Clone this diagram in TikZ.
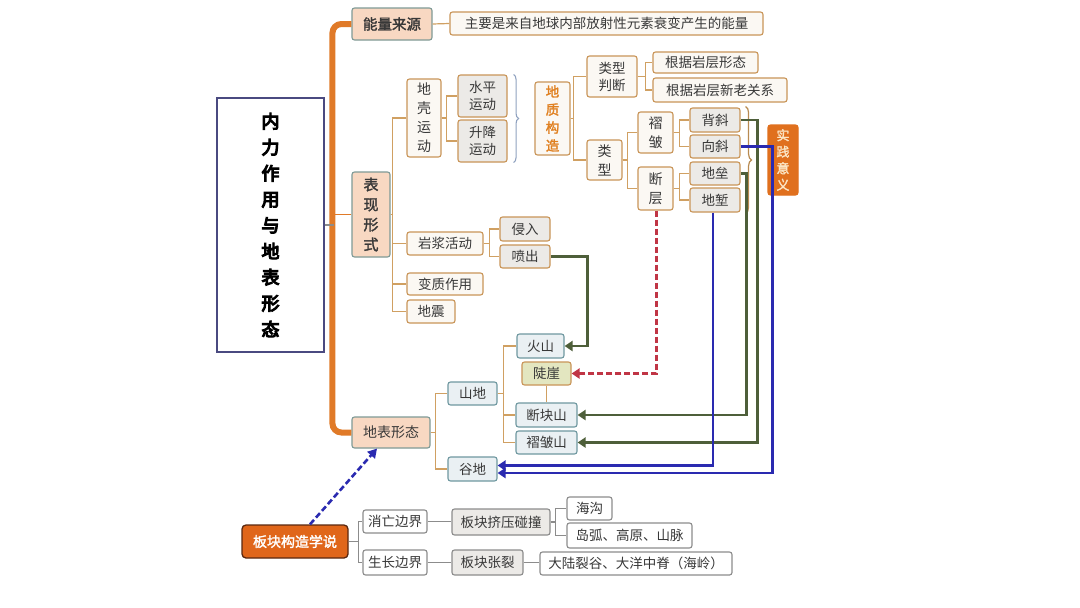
\documentclass[tikz,border=0pt]{standalone}
\usepackage{fontspec}
\newfontfamily\cjk{Noto Sans CJK SC}
\newfontfamily\cjkb{Noto Sans CJK SC}[FakeBold=2]
\newfontfamily\cjkt{Noto Sans CJK SC}[FakeBold=6]
\usetikzlibrary{arrows.meta,decorations.pathreplacing,calc}
\definecolor{txt}{HTML}{383838}
\definecolor{peachf}{HTML}{F8D8C2}
\definecolor{peachb}{HTML}{7F9A96}
\definecolor{tanb}{HTML}{C99558}
\definecolor{tanf}{HTML}{FBF8F3}
\definecolor{greyf}{HTML}{ECEAE7}
\definecolor{bluef}{HTML}{EAF0F3}
\definecolor{blueb}{HTML}{6F98A0}
\definecolor{olivef}{HTML}{E3E6C0}
\definecolor{orangef}{HTML}{E0701E}
\definecolor{orangedk}{HTML}{E0661A}
\definecolor{brownb}{HTML}{5A2810}
\definecolor{creamt}{HTML}{FBE6C6}
\definecolor{barc}{HTML}{E07A28}
\definecolor{lnc}{HTML}{D0A062}
\definecolor{greyb}{HTML}{8C8C8C}
\definecolor{greenc}{HTML}{4E5F3A}
\definecolor{bluec}{HTML}{2A2AB0}
\definecolor{redc}{HTML}{C03545}
\definecolor{navyc}{HTML}{4A4A80}
\definecolor{bracec}{HTML}{90A2C0}
\definecolor{braceb}{HTML}{B88A50}
\definecolor{dzorange}{HTML}{E08020}
\newcommand\bx[7]{%
  \pgfmathsetmacro\bxw{#5-#3}\pgfmathsetmacro\bxh{#6-#4}%
  \node[#1, minimum width=\bxw pt, minimum height=\bxh pt, inner sep=0pt] (#2) at ({(#3+#5)/2},{(#4+#6)/2}) {#7};}
\begin{document}
\begin{tikzpicture}[x=1pt,y=-1pt,
  base/.style={rounded corners=2.5pt, line width=1.1pt, text=txt, align=center, font=\cjk\fontsize{13.5}{17}\selectfont},
  peach/.style={base, draw=peachb, fill=peachf},
  tanwhite/.style={base, draw=tanb, fill=tanf},
  tangrey/.style={base, draw=tanb, fill=greyf},
  bluebox/.style={base, draw=blueb, fill=bluef},
  olivebox/.style={base, draw=tanb, fill=olivef},
  orbox/.style={base, draw=orangef, fill=orangef, text=creamt, font=\cjkb\fontsize{13}{16.5}\selectfont},
  bkbox/.style={base, draw=brownb, fill=orangedk, text=white, line width=1.3pt, rounded corners=4pt, font=\cjkb\fontsize{14}{17}\selectfont},
  gbox/.style={base, draw=greyb, fill=white},
  gfill/.style={base, draw=greyb, fill=greyf},
  titlebox/.style={draw=navyc, line width=1.3pt, fill=white, text=black, align=center, font=\cjkt\fontsize{18}{26}\selectfont},
  ln/.style={draw=lnc, line width=1.2pt},
  gln/.style={draw=greyb, line width=1.1pt},
  bar/.style={draw=barc, line width=6pt, rounded corners=9pt},
  garr/.style={draw=greenc, line width=2.6pt, -{Triangle[width=10pt,length=8pt]}},
  barr/.style={draw=bluec, line width=2.8pt, -{Triangle[width=10pt,length=8pt]}},
  rarr/.style={draw=redc, line width=2.6pt, dash pattern=on 6pt off 3pt, -{Triangle[width=10pt,length=8pt]}},
  bdarr/.style={draw=bluec, line width=2.6pt, dash pattern=on 6pt off 3pt, -{Triangle[width=10pt,length=9pt]}}
]
\fill[white] (0,0) rectangle (1080,608);
\useasboundingbox (0,0) rectangle (1080,608);

% nodes
\bx{titlebox}{title}{217}{98}{324}{352}{内\\力\\作\\用\\与\\地\\表\\形\\态}
\bx{peach, font=\cjkb\fontsize{14.5}{17}\selectfont}{nlly}{352}{8}{432}{40}{能量来源}
\bx{tanwhite}{zy}{450}{12}{763}{35}{主要是来自地球内部放射性元素衰变产生的能量}
\bx{peach, font=\cjkb\fontsize{15}{20}\selectfont}{bxxs}{352}{172}{390}{257}{表\\现\\形\\式}
\bx{tanwhite, font=\cjk\fontsize{14}{19}\selectfont}{dkyd}{407}{79}{441}{157}{地\\壳\\运\\动}
\bx{tangrey}{spyd}{458}{75}{507}{117}{水平\\运动}
\bx{tangrey}{sjyd}{458}{120}{507}{162}{升降\\运动}
\bx{tanwhite, text=dzorange, font=\cjkb\fontsize{13.5}{18}\selectfont}{dzgz}{535}{82}{570}{155}{地\\质\\构\\造}
\bx{tanwhite}{lxpd}{587}{56}{637}{97}{类型\\判断}
\bx{tanwhite}{gja}{653}{52}{758}{73}{根据岩层形态}
\bx{tanwhite}{gjb}{653}{78}{787}{102}{根据岩层新老关系}
\bx{tanwhite, font=\cjk\fontsize{14}{19}\selectfont}{lx}{587}{140}{622}{180}{类\\型}
\bx{tanwhite, font=\cjk\fontsize{14}{19}\selectfont}{zz}{638}{112}{673}{153}{褶\\皱}
\bx{tanwhite, font=\cjk\fontsize{14}{19}\selectfont}{dc}{638}{167}{673}{210}{断\\层}
\bx{tangrey}{bxie}{690}{108}{740}{132}{背斜}
\bx{tangrey}{xxie}{690}{135}{740}{158}{向斜}
\bx{tangrey}{dl}{690}{162}{740}{185}{地垒}
\bx{tangrey}{dq}{690}{188}{740}{212}{地堑}
\bx{orbox}{sjyy}{768}{125}{798}{195}{实\\践\\意\\义}
\bx{tanwhite}{yjhd}{407}{232}{483}{255}{岩浆活动}
\bx{tangrey}{qr}{500}{217}{550}{241}{侵入}
\bx{tangrey}{pc}{500}{245}{550}{268}{喷出}
\bx{tanwhite}{bzzy}{407}{273}{483}{295}{变质作用}
\bx{tanwhite}{dz}{407}{300}{455}{323}{地震}
\bx{peach, font=\cjk\fontsize{14}{17}\selectfont}{dbxt}{352}{417}{430}{448}{地表形态}
\bx{bluebox}{sd}{448}{382}{497}{405}{山地}
\bx{bluebox}{gd}{448}{457}{497}{481}{谷地}
\bx{bluebox}{hs}{517}{334}{564}{358}{火山}
\bx{olivebox}{dy}{522}{362}{571}{385}{陡崖}
\bx{bluebox}{dks}{516}{403}{577}{427}{断块山}
\bx{bluebox}{zzs}{516}{431}{577}{454}{褶皱山}
\bx{bkbox}{bkgz}{242}{525}{348}{558}{板块构造学说}
\bx{gbox}{xwbj}{363}{510}{427}{533}{消亡边界}
\bx{gbox}{szbj}{363}{550}{427}{575}{生长边界}
\bx{gfill}{bkjy}{452}{509}{550}{535}{板块挤压碰撞}
\bx{gfill}{bkzl}{452}{550}{523}{575}{板块张裂}
\bx{gbox}{hg}{567}{497}{612}{520}{海沟}
\bx{gbox}{dh}{567}{523}{692}{548}{岛弧、高原、山脉}
\bx{gbox}{dlz}{540}{552}{732}{575}{大陆裂谷、大洋中脊（海岭）}

% orange spine
\draw[bar] (nlly.west) -- ++(-19,0) |- (dbxt.west);
\draw[draw=barc, line width=1.5pt] (bxxs.west) -- ++(-19,0);
\draw[gln] (title.east) -- ++(9,0);

% tan connectors
\draw[ln] (nlly.east) -- (zy.west);
\draw[ln] (bxxs.east) -- ++(2,0) |- (dkyd.west);
\draw[ln] (bxxs.east) -- ++(2,0) |- (yjhd.west);
\draw[ln] (bxxs.east) -- ++(2,0) |- (bzzy.west);
\draw[ln] (bxxs.east) -- ++(2,0) |- (dz.west);
\draw[ln] (dkyd.east) -- ++(5,0) |- (spyd.west);
\draw[ln] (dkyd.east) -- ++(5,0) |- (sjyd.west);
\draw[ln] (dzgz.east) -- ++(3,0) |- (lxpd.west);
\draw[ln] (dzgz.east) -- ++(3,0) |- (lx.west);
\draw[ln] (lxpd.east) -- ++(8,0) |- (gja.west);
\draw[ln] (lxpd.east) -- ++(8,0) |- (gjb.west);
\draw[ln] (lx.east) -- ++(5,0) |- (zz.west);
\draw[ln] (lx.east) -- ++(5,0) |- (dc.west);
\draw[ln] (zz.east) -- ++(6,0) |- (bxie.west);
\draw[ln] (zz.east) -- ++(6,0) |- (xxie.west);
\draw[ln] (dc.east) -- ++(6,0) |- (dl.west);
\draw[ln] (dc.east) -- ++(6,0) |- (dq.west);
\draw[ln] (yjhd.east) -- ++(6,0) |- (qr.west);
\draw[ln] (yjhd.east) -- ++(6,0) |- (pc.west);
\draw[ln] (dbxt.east) -- ++(5,0) |- (sd.west);
\draw[ln] (dbxt.east) -- ++(5,0) |- (gd.west);
\draw[ln] (sd.east) -- ++(6,0) |- (hs.west);
\draw[ln] (sd.east) -- ++(6,0) |- (dks.west);
\draw[ln] (sd.east) -- ++(6,0) |- (zzs.west);
\draw[ln] (dy.south) -- (dks.north);

% grey connectors (bottom)
\draw[gln] (bkgz.east) -- ++(10,0) |- (xwbj.west);
\draw[gln] (bkgz.east) -- ++(10,0) |- (szbj.west);
\draw[gln] (xwbj.east) -- (bkjy.west |- xwbj.east);
\draw[gln] (szbj.east) -- (bkzl.west |- szbj.east);
\draw[gln] (bkjy.east) -- ++(5,0) |- (hg.west);
\draw[gln] (bkjy.east) -- ++(5,0) |- (dh.west);
\draw[gln] (bkzl.east) -- (dlz.west |- bkzl.east);

% braces
\draw[draw=bracec, line width=1.1pt, decorate, decoration={brace, amplitude=5pt}]
  ($(spyd.north east)+(6,0)$) -- ($(sjyd.south east)+(6,0)$);
\draw[draw=braceb, line width=1.2pt, decorate, decoration={brace, amplitude=6pt}]
  ($(bxie.north east)+(5,-1)$) -- ($(dq.south east)+(5,1)$);

% coloured arrows
\draw[garr] (pc.east) -- ++(37,0) |- (hs.east);
\draw[garr] (bxie.east) -- ++(17,0) |- (zzs.east);
\draw[garr] (dl.east) -- ++(6,0) |- (dks.east);
\draw[barr] ($(dq.south)+(-2,0)$) |- ($(gd.east)+(0,-3.5)$);
\draw[barr] (xxie.east) -- ++(32,0) |- ($(gd.east)+(0,4)$);
\draw[rarr] ($(dc.south)+(1,0)$) |- (dy.east);
\draw[bdarr] ($(bkgz.north)+(15,0)$) -- ($(dbxt.south)+(-14,0)$);
\end{tikzpicture}
\end{document}
